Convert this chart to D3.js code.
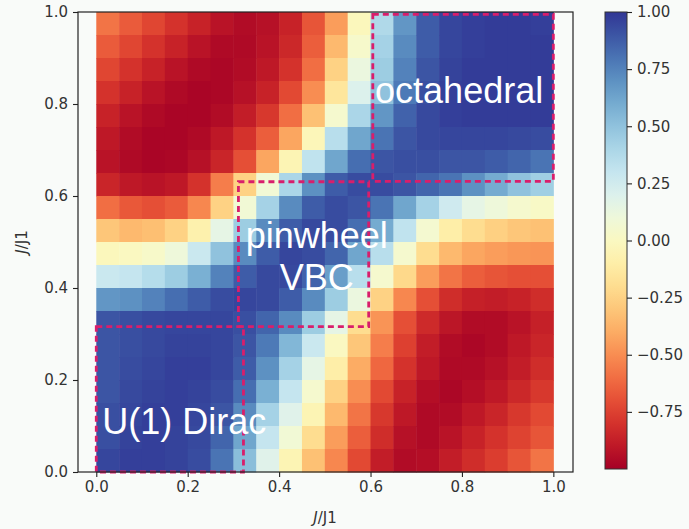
<!DOCTYPE html>
<html>
<head>
<meta charset="utf-8">
<script src="https://cdn.jsdelivr.net/npm/d3@7"></script>
<style>
  body { margin: 0; background: #f9fbf9; }
  svg { display: block; }
  text { font-family: "DejaVu Sans", sans-serif; }
</style>
</head>
<body>
<svg width="689" height="529"></svg>
<script>
// cell centres (J/J1 on both axes), rows listed top to bottom
const jx = [0.025, 0.075, 0.125, 0.175, 0.225, 0.275, 0.325, 0.375, 0.425, 0.475,
            0.525, 0.575, 0.625, 0.675, 0.725, 0.775, 0.825, 0.875, 0.925, 0.975]
const jy = [0.975, 0.925, 0.875, 0.825, 0.775, 0.725, 0.675, 0.625, 0.575, 0.525,
            0.475, 0.425, 0.375, 0.325, 0.275, 0.225, 0.175, 0.125, 0.075, 0.025]
const order = [
  [-0.58,-0.66,-0.73,-0.80,-0.86,-0.92,-0.95,-0.93,-0.86,-0.68,-0.45,-0.02,0.38,0.68,0.88,0.95,0.97,0.98,0.98,0.97],
  [-0.66,-0.73,-0.80,-0.86,-0.92,-0.96,-0.96,-0.92,-0.84,-0.65,-0.35,0.04,0.42,0.72,0.88,0.95,0.97,0.98,0.98,0.98],
  [-0.73,-0.80,-0.86,-0.92,-0.96,-0.97,-0.95,-0.90,-0.80,-0.60,-0.25,0.12,0.45,0.75,0.90,0.96,0.98,0.98,0.98,0.98],
  [-0.80,-0.86,-0.92,-0.96,-0.98,-0.97,-0.93,-0.86,-0.72,-0.50,-0.15,0.20,0.50,0.78,0.92,0.97,0.98,0.98,0.98,0.98],
  [-0.86,-0.92,-0.96,-0.98,-0.98,-0.95,-0.88,-0.78,-0.60,-0.32,0.05,0.40,0.68,0.86,0.94,0.97,0.98,0.98,0.98,0.98],
  [-0.90,-0.95,-0.98,-0.98,-0.96,-0.90,-0.80,-0.65,-0.42,-0.03,0.35,0.62,0.80,0.90,0.94,0.95,0.95,0.95,0.94,0.93],
  [-0.92,-0.96,-0.98,-0.97,-0.93,-0.85,-0.70,-0.42,-0.05,0.32,0.62,0.82,0.90,0.92,0.92,0.90,0.90,0.88,0.85,0.80],
  [-0.85,-0.90,-0.92,-0.90,-0.80,-0.55,-0.25,0.08,0.40,0.70,0.88,0.93,0.93,0.90,0.85,0.80,0.70,0.60,0.50,0.44],
  [-0.60,-0.67,-0.70,-0.66,-0.52,-0.25,0.08,0.42,0.72,0.88,0.93,0.90,0.80,0.62,0.42,0.26,0.15,0.10,0.05,0.02],
  [-0.30,-0.35,-0.33,-0.25,-0.08,0.15,0.45,0.72,0.88,0.94,0.93,0.82,0.60,0.32,0.06,-0.10,-0.20,-0.26,-0.30,-0.32],
  [-0.02,0.00,0.03,0.10,0.28,0.50,0.72,0.88,0.95,0.93,0.85,0.62,0.35,0.05,-0.20,-0.35,-0.42,-0.45,-0.47,-0.48],
  [0.28,0.30,0.36,0.45,0.58,0.75,0.88,0.94,0.94,0.86,0.65,0.35,0.05,-0.22,-0.45,-0.58,-0.65,-0.68,-0.70,-0.70],
  [0.68,0.70,0.75,0.82,0.88,0.93,0.95,0.94,0.88,0.72,0.45,0.12,-0.25,-0.52,-0.70,-0.82,-0.87,-0.88,-0.86,-0.82],
  [0.90,0.92,0.94,0.95,0.95,0.95,0.92,0.85,0.72,0.45,0.15,-0.20,-0.48,-0.70,-0.83,-0.91,-0.95,-0.95,-0.92,-0.87],
  [0.90,0.92,0.94,0.96,0.96,0.95,0.90,0.78,0.55,0.28,0.00,-0.30,-0.55,-0.75,-0.88,-0.95,-0.97,-0.95,-0.90,-0.85],
  [0.90,0.93,0.95,0.97,0.97,0.95,0.88,0.70,0.42,0.15,-0.10,-0.40,-0.62,-0.80,-0.90,-0.96,-0.96,-0.93,-0.88,-0.82],
  [0.90,0.94,0.96,0.97,0.96,0.93,0.82,0.58,0.30,0.05,-0.25,-0.50,-0.72,-0.86,-0.94,-0.97,-0.94,-0.90,-0.84,-0.78],
  [0.92,0.95,0.97,0.97,0.95,0.90,0.72,0.42,0.18,-0.05,-0.35,-0.58,-0.78,-0.90,-0.96,-0.95,-0.90,-0.85,-0.78,-0.72],
  [0.92,0.96,0.97,0.96,0.94,0.85,0.62,0.30,0.08,-0.20,-0.45,-0.65,-0.82,-0.93,-0.96,-0.92,-0.86,-0.80,-0.74,-0.68],
  [0.95,0.97,0.97,0.96,0.93,0.80,0.52,0.18,-0.05,-0.32,-0.52,-0.72,-0.88,-0.95,-0.94,-0.88,-0.82,-0.76,-0.68,-0.58]
]
const cellSize = 0.05

const xTicks = [0, 0.2, 0.4, 0.6, 0.8, 1.0]
const yTicks = [0, 0.2, 0.4, 0.6, 0.8, 1.0]
const barTicks = [-0.75, -0.5, -0.25, 0, 0.25, 0.5, 0.75, 1]

// phase regions drawn as dashed boxes
const phaseNames = [['U(1) Dirac'], ['pinwheel', 'VBC'], ['octahedral']]
const phaseX = [[0, 0.322], [0.311, 0.596], [0.605, 1.0]]
const phaseY = [[0, 0.316], [0.316, 0.631], [0.632, 0.995]]

const svg = d3.select('svg')

const x = d3.scaleLinear().domain([-0.04, 1.043]).range([78, 573])
const y = d3.scaleLinear().domain([0, 1]).range([472, 12])
const color = d3.scaleSequential(d3.interpolateRdYlBu).domain([-1, 1])

const cells = []
order.forEach((row, i) => row.forEach((v, j) => cells.push({ cx: jx[j], cy: jy[i], v })))

const plot = svg.append('g')

plot.selectAll('rect.cell').data(cells)
  .enter().append('rect')
    .attr('class', 'cell')
    .attr('x', d => x(d.cx - cellSize / 2))
    .attr('y', d => y(d.cy + cellSize / 2))
    .attr('width', d => x(d.cx + cellSize / 2) - x(d.cx - cellSize / 2) + 0.5)
    .attr('height', d => y(d.cy - cellSize / 2) - y(d.cy + cellSize / 2) + 0.5)
    .attr('fill', d => color(d.v))

// dashed phase boxes
plot.selectAll('rect.phase').data(phaseX)
  .enter().append('rect')
    .attr('class', 'phase')
    .attr('x', (d, i) => x(d[0]))
    .attr('y', (d, i) => y(phaseY[i][1]))
    .attr('width', (d, i) => x(d[1]) - x(d[0]))
    .attr('height', (d, i) => y(phaseY[i][0]) - y(phaseY[i][1]))
    .attr('fill', 'none')
    .attr('stroke', '#d91e6b')
    .attr('stroke-width', 2.8)
    .attr('stroke-dasharray', '6,4')

// phase labels, anchored in data units
const labelAt = [
  { x: 0.013, y: 0.083, anchor: 'start' },
  { x: 0.4825, y: 0.487, anchor: 'middle' },
  { x: 0.61, y: 0.802, anchor: 'start' }
]
phaseNames.forEach((lines, i) => {
  lines.forEach((t, k) => {
    plot.append('text')
      .attr('x', x(labelAt[i].x))
      .attr('y', y(labelAt[i].y) + k * 42)
      .attr('text-anchor', labelAt[i].anchor)
      .style('font-family', '"Liberation Sans", Arial, sans-serif')
      .style('font-size', '36px')
      .attr('fill', '#ffffff')
      .text(t)
  })
})

// frame
svg.append('rect')
  .attr('x', 78).attr('y', 12)
  .attr('width', 573 - 78).attr('height', 472 - 12)
  .attr('fill', 'none')
  .attr('stroke', '#222')
  .attr('stroke-width', 1.2)

const fmt1 = d3.format('.1f')

const xAxis = svg.append('g')
  .attr('transform', 'translate(0,472)')
  .call(d3.axisBottom(x).tickValues(xTicks).tickFormat(fmt1).tickSizeOuter(0).tickSize(5).tickPadding(4))
const yAxis = svg.append('g')
  .attr('transform', 'translate(78,0)')
  .call(d3.axisLeft(y).tickValues(yTicks).tickFormat(fmt1).tickSizeOuter(0).tickSize(5).tickPadding(5))

;[xAxis, yAxis].forEach(a => {
  a.select('.domain').remove()
  a.selectAll('line').attr('stroke', '#222').attr('stroke-width', 1.1)
  a.selectAll('text')
    .style('font-family', '"DejaVu Sans", sans-serif')
    .style('font-size', '15px')
    .attr('fill', '#333')
})

const xLabel = svg.append('text')
  .attr('x', 325).attr('y', 523)
  .attr('text-anchor', 'middle')
  .style('font-size', '15px')
  .attr('fill', '#333')
xLabel.append('tspan').style('font-style', 'italic').text('J')
xLabel.append('tspan').text('/J1')

const yLabel = svg.append('text')
  .attr('transform', 'translate(27,242) rotate(-90)')
  .attr('text-anchor', 'middle')
  .style('font-size', '15px')
  .attr('fill', '#333')
yLabel.append('tspan').style('font-style', 'italic').text('J')
yLabel.append('tspan').text('/J1')

// colorbar
const cb = d3.scaleLinear().domain([-1, 1]).range([469, 12])
const defs = svg.append('defs')
const grad = defs.append('linearGradient')
  .attr('id', 'cbgrad')
  .attr('x1', 0).attr('y1', 1).attr('x2', 0).attr('y2', 0)
grad.selectAll('stop').data(d3.range(0, 1.0001, 0.05))
  .enter().append('stop')
    .attr('offset', d => d)
    .attr('stop-color', d => color(d * 2 - 1))

svg.append('rect')
  .attr('x', 605).attr('y', cb(1))
  .attr('width', 22).attr('height', cb(-1) - cb(1))
  .attr('fill', 'url(#cbgrad)')
  .attr('stroke', '#333')
  .attr('stroke-width', 1)

const cbAxis = svg.append('g')
  .attr('transform', 'translate(627,0)')
  .call(d3.axisRight(cb).tickValues(barTicks)
    .tickFormat(v => (v < 0 ? '\u2212' : '') + Math.abs(v).toFixed(2))
    .tickSizeOuter(0).tickSize(5).tickPadding(5))
cbAxis.select('.domain').remove()
cbAxis.selectAll('line').attr('stroke', '#222').attr('stroke-width', 1.1)
cbAxis.selectAll('text')
  .style('font-family', '"DejaVu Sans", sans-serif')
  .style('font-size', '15px')
  .attr('fill', '#333')
</script>
</body>
</html>
